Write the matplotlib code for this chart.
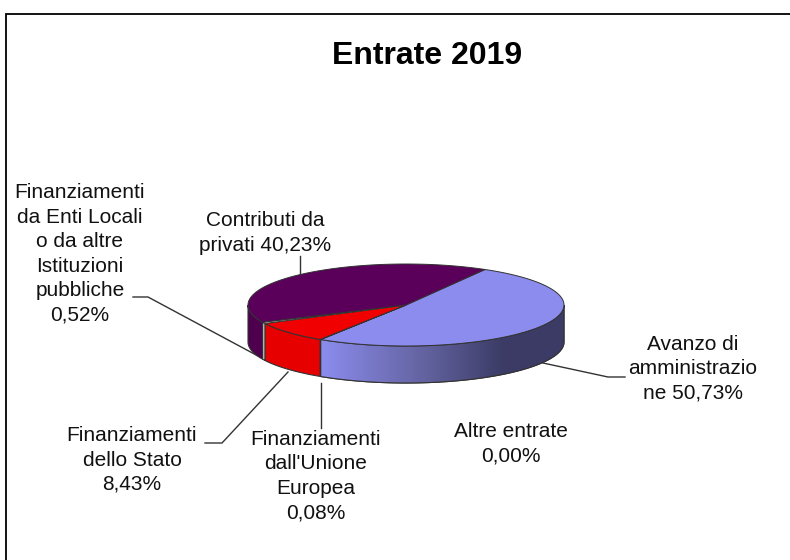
import numpy as np
import matplotlib
matplotlib.use("Agg")
import matplotlib.pyplot as plt
from matplotlib.colors import LinearSegmentedColormap
from matplotlib.patches import Polygon

plt.rcParams["font.family"] = ["Liberation Sans", "DejaVu Sans"]

categories = ["Avanzo di\namministrazio\nne 50,73%", "Altre entrate\n0,00%",
              "Finanziamenti\ndall'Unione\nEuropea\n0,08%", "Finanziamenti\ndello Stato\n8,43%",
              "Finanziamenti\nda Enti Locali\no da altre\nIstituzioni\npubbliche\n0,52%",
              "Contributi da\nprivati 40,23%"]
values = [50.73, 0.00, 0.08, 8.43, 0.52, 40.23]
top_colors = ["#8C8CEE", "#8C8CEE", "#8C8CEE", "#F00000", "#FFFFFF", "#5A005A"]
side_colors = ["#8C8CEE", "#8C8CEE", "#777777", "#E60000", "#F0F0F0", "#4E004E"]

# ellipse geometry in pixels
cx, cy, rx, ry, depth = 406, 305, 158, 41, 37
start = 60.0

fig = plt.figure(figsize=(7.9, 5.6), dpi=100)
ax = fig.add_axes([0, 0, 1, 1])
ax.axis("off")


def rim(a1, a2, n=80):
    t = np.radians(np.linspace(a1, a2, n))
    return cx + rx * np.cos(t), cy - ry * np.sin(t)


# slices run clockwise from the start angle
edges = start - np.cumsum([0] + values) * 360 / sum(values)

# side wall, only the front half of the rim shows (-180..0 deg)
for i in range(len(values)):
    lo2 = max(edges[i + 1], -180)
    hi2 = min(edges[i], 0)
    if lo2 < hi2:
        x, y = rim(hi2, lo2)
        pts = np.column_stack([np.r_[x, x[::-1]], np.r_[y, y[::-1] + depth]])
        poly = Polygon(pts, closed=True, fc=side_colors[i], ec="#333333", lw=0.8, zorder=2)
        ax.add_patch(poly)
        if i == 0:
            cmap = LinearSegmentedColormap.from_list(
                "wall", [(0, "#8C8CEE"), (0.43, "#62629F"), (0.75, "#3B3B66"), (1, "#3B3B66")])
            im = ax.imshow(np.linspace(0, 1, 256)[None, :], cmap=cmap, aspect="auto",
                           extent=[x.min(), x.max(), 400, 290], zorder=2.1)
            im.set_clip_path(poly)
            ax.add_patch(Polygon(pts, closed=True, fc="none", ec="#333333", lw=0.8, zorder=2.2))

# top surface
for i in range(len(values)):
    if values[i] == 0:
        continue
    x, y = rim(edges[i], edges[i + 1])
    pts = np.column_stack([np.r_[cx, x], np.r_[cy, y]])
    ax.add_patch(Polygon(pts, closed=True, fc=top_colors[i], ec="#333333", lw=0.7, zorder=3))

# leader lines
leaders = [([300, 300], [256, 275]),
           ([133, 148, 258], [297, 297, 356]),
           ([205, 222, 288], [443, 443, 372]),
           ([321, 321], [383, 428]),
           ([543, 608, 625], [363, 377, 377])]
for lx, ly in leaders:
    ax.plot(lx, ly, color="#333333", lw=1.0, zorder=1)

label_pos = [(693, 369), (511, 444), (316, 476), (132, 460), (80, 254), (265, 233)]
for lab, (tx, ty) in zip(categories, label_pos):
    ax.text(tx, ty, lab, ha="center", va="center", fontsize=15, linespacing=1.36, color="#111111")

ax.text(427, 56, "Entrate 2019", ha="center", va="center", fontsize=23, fontweight="bold", color="black")

# chart frame: top and left only are inside the crop
ax.plot([790, 6, 6], [14, 14, 560], color="black", lw=1.3, solid_joinstyle="miter", zorder=5)

ax.set_xlim(0, 790)
ax.set_ylim(560, 0)

fig.savefig("out.png", dpi=100)
